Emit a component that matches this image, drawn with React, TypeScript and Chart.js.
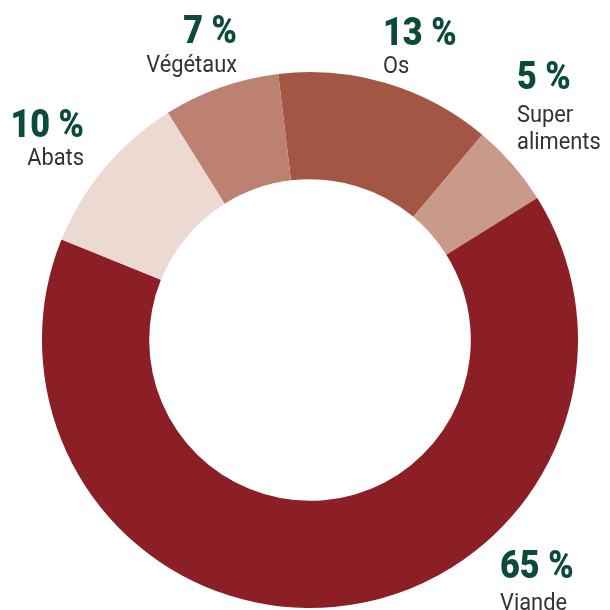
import React, { useEffect, useRef } from "react";
import { Chart, registerables } from "chart.js";

Chart.register(...registerables);

const categories = ["Os", "Super aliments", "Viande", "Abats", "Végétaux"];
const values = [13, 5, 65, 10, 7];
const colors = ["#a45644", "#c99a8a", "#8c1f26", "#ecdad2", "#bd8172"];
const nameLines = [["Os"], ["Super", "aliments"], ["Viande"], ["Abats"], ["Végétaux"]];

// label layout (x anchor, number baseline, first name baseline, line gap, align)
const labelLayout = [
  { x: 383, y: 45, ny: 73, gap: 27, align: "left" },
  { x: 517, y: 89, ny: 122, gap: 27, align: "left" },
  { x: 500, y: 578, ny: 610, gap: 27, align: "left" },
  { x: 84, y: 137, ny: 165, gap: 27, align: "right" },
  { x: 237, y: 43, ny: 72, gap: 27, align: "right" },
];

function drawScaled(ctx: CanvasRenderingContext2D, t: string, x: number, y: number, sx: number) {
  ctx.save();
  ctx.translate(x, y);
  ctx.scale(sx, 1);
  ctx.fillText(t, 0, 0);
  ctx.restore();
}

const labelPlugin = {
  id: "outsideLabels",
  afterDraw(chart: any) {
    const ctx = chart.ctx as CanvasRenderingContext2D;
    const ds = chart.data.datasets[0].data as number[];
    ctx.save();
    ds.forEach((v, i) => {
      const l = labelLayout[i];
      ctx.textAlign = l.align as CanvasTextAlign;
      ctx.textBaseline = "alphabetic";
      ctx.fillStyle = "#0b4a3c";
      ctx.font = "900 38px Roboto";
      drawScaled(ctx, `${v} %`, l.x, l.y, 0.9);
      ctx.fillStyle = "#333333";
      ctx.font = "24px Roboto";
      nameLines[i].forEach((t, k) => drawScaled(ctx, t, l.x, l.ny + k * l.gap, 0.91));
    });
    ctx.restore();
  },
};

export default function App() {
  const ref = useRef<HTMLCanvasElement>(null);
  useEffect(() => {
    const chart = new Chart(ref.current!, {
      type: "doughnut",
      data: {
        labels: categories,
        datasets: [
          {
            data: values,
            backgroundColor: colors,
            borderWidth: 0,
          },
        ],
      },
      options: {
        responsive: false,
        animation: false,
        rotation: -6.8,
        cutout: "60%",
        layout: { padding: { left: 42, right: 32, top: 72, bottom: 2 } },
        plugins: { legend: { display: false }, tooltip: { enabled: false } },
      },
      plugins: [labelPlugin],
    });
    return () => chart.destroy();
  }, []);
  return (
    <div style={{ position: "absolute", left: 0, top: 0, width: 610, height: 610, background: "#fff" }}>
      <canvas ref={ref} width={610} height={610} style={{ width: 610, height: 610 }} />
    </div>
  );
}
